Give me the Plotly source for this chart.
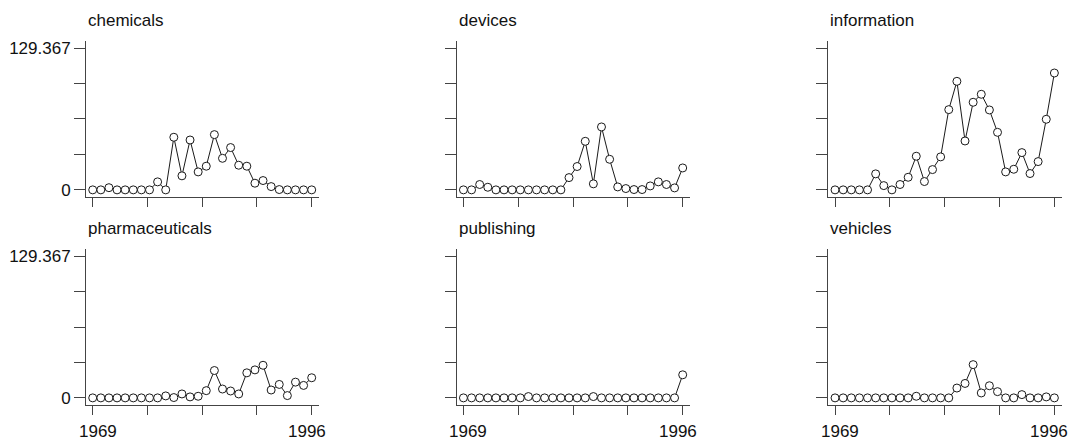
import plotly.graph_objects as go

years = list(range(1969, 1997))

chemicals = [0, 0, 2, 0, 0, 0, 0, 0, 7.3, 0, 48, 12.8, 45.5, 16.4, 21.6, 50.4, 28.8, 38.6,
             22.5, 21.6, 6.1, 8.5, 3, 0.3, 0, 0, 0, 0]
devices = [0, 0, 4.9, 2.4, 0, 0, 0, 0, 0, 0, 0, 0, 0, 11.2, 21.3, 44.3, 5.5, 57.4, 27.9,
           2.7, 1.2, 0.3, 0.3, 3.6, 7.3, 4.9, 1.8, 20]
information = [0, 0, 0, 0, 0, 14.6, 3.9, 0, 4.9, 11.5, 30.7, 7.6, 18.5, 30.1, 73.2, 99,
               44.6, 79.9, 87.2, 72.9, 52.5, 16.4, 18.8, 34, 14.9, 25.8, 64.4, 106.6]
pharmaceuticals = [0, 0, 0, 0, 0, 0, 0, 0, 0, 1.8, 0.3, 3.6, 0.9, 1.5, 6.6, 25, 8.1, 6.3,
                   3.6, 22.9, 25.6, 29.8, 7.2, 12.3, 2.1, 14.4, 11.4, 18.4]
publishing = [0, 0, 0, 0, 0, 0, 0, 0, 1.2, 0, 0, 0, 0, 0, 0, 0, 1.2, 0, 0, 0, 0, 0, 0, 0,
              0, 0, 0, 21.1]
vehicles = [0, 0, 0, 0, 0, 0, 0, 0, 0, 0, 1.5, 0, 0, 0, 0, 9, 13.2, 30.4, 4.5, 11.1, 5.7,
            0, 0, 3, 0, 0, 0.9, 0]

panel_names = ["chemicals", "devices", "information",
               "pharmaceuticals", "publishing", "vehicles"]
panel_values = [chemicals, devices, information, pharmaceuticals, publishing, vehicles]

ymax = 129.367
y_tickvals = [0, ymax / 4, ymax / 2, 3 * ymax / 4, ymax]
y_ticklabels = ["0", "", "", "", "129.367"]
x_tickvals = [1969, 1975.75, 1982.5, 1989.25, 1996]
x_ticklabels = ["1969", "", "", "", "1996"]

W, H = 1071, 441
col_px = [(86, 319), (456.7, 690), (828.3, 1061.7)]
row_px = [(41, 197), (249.3, 405)]
title_y_px = [20, 228]

FONT = "Liberation Sans, Arial, sans-serif"
AXC = "#444444"
TXC = "#111111"

fig = go.Figure()
annotations = []
for i, (name, vals) in enumerate(zip(panel_names, panel_values)):
    r, c = divmod(i, 3)
    k = "" if i == 0 else str(i + 1)
    xa, ya = "x" + k, "y" + k
    fig.add_trace(go.Scatter(
        x=years, y=vals, mode="lines+markers", xaxis=xa, yaxis=ya,
        line=dict(color="#1a1a1a", width=1),
        marker=dict(symbol="circle", size=8, color="white",
                    line=dict(color="#1a1a1a", width=1)),
        showlegend=False, hoverinfo="x+y"))
    x0, x1 = col_px[c]
    y0, y1 = row_px[r]
    xdom = [x0 / W, x1 / W]
    ydom = [1 - y1 / H, 1 - y0 / H]
    fig.layout["xaxis" + k] = dict(
        domain=xdom, anchor=ya, range=[1968.17, 1996.9], automargin=False,
        tickvals=x_tickvals, ticktext=[""] * len(x_tickvals),
        ticks="outside", ticklen=9, tickwidth=1, tickcolor=AXC,
        showline=True, linecolor=AXC, linewidth=1,
        showgrid=False, zeroline=False,
        tickfont=dict(family=FONT, size=17, color=TXC))
    fig.layout["yaxis" + k] = dict(
        domain=ydom, anchor=xa, range=[-6.5, 135.8], automargin=False,
        tickvals=y_tickvals,
        ticktext=y_ticklabels if c == 0 else [""] * 5,
        ticks="outside", ticklen=11, tickwidth=1, tickcolor=AXC,
        showline=True, linecolor=AXC, linewidth=1,
        showgrid=False, zeroline=False,
        tickfont=dict(family=FONT, size=17, color=TXC))
    annotations.append(dict(
        text=name, xref="paper", yref="paper",
        x=x0 / W, y=1 - title_y_px[r] / H, xanchor="left", yanchor="middle",
        showarrow=False, font=dict(family=FONT, size=17, color=TXC)))
    if r == 1:
        # year labels under the first and last ticks (slightly inset, as in the original)
        for tv, tt in zip(x_tickvals, x_ticklabels):
            if not tt:
                continue
            annotations.append(dict(
                text=tt, xref=xa, yref=ya + " domain", x=tv, y=0,
                xshift=5 if tv == x_tickvals[0] else -5, yshift=-26,
                xanchor="center", yanchor="middle", showarrow=False,
                font=dict(family=FONT, size=17, color=TXC)))

fig.update_layout(
    width=W, height=H, margin=dict(l=0, r=0, t=0, b=0, autoexpand=False),
    paper_bgcolor="white", plot_bgcolor="white",
    annotations=annotations)

fig.write_html(
    "out.html",
    config={"displayModeBar": False},
    post_script="document.body.style.margin='0';document.body.style.overflow='hidden';")
